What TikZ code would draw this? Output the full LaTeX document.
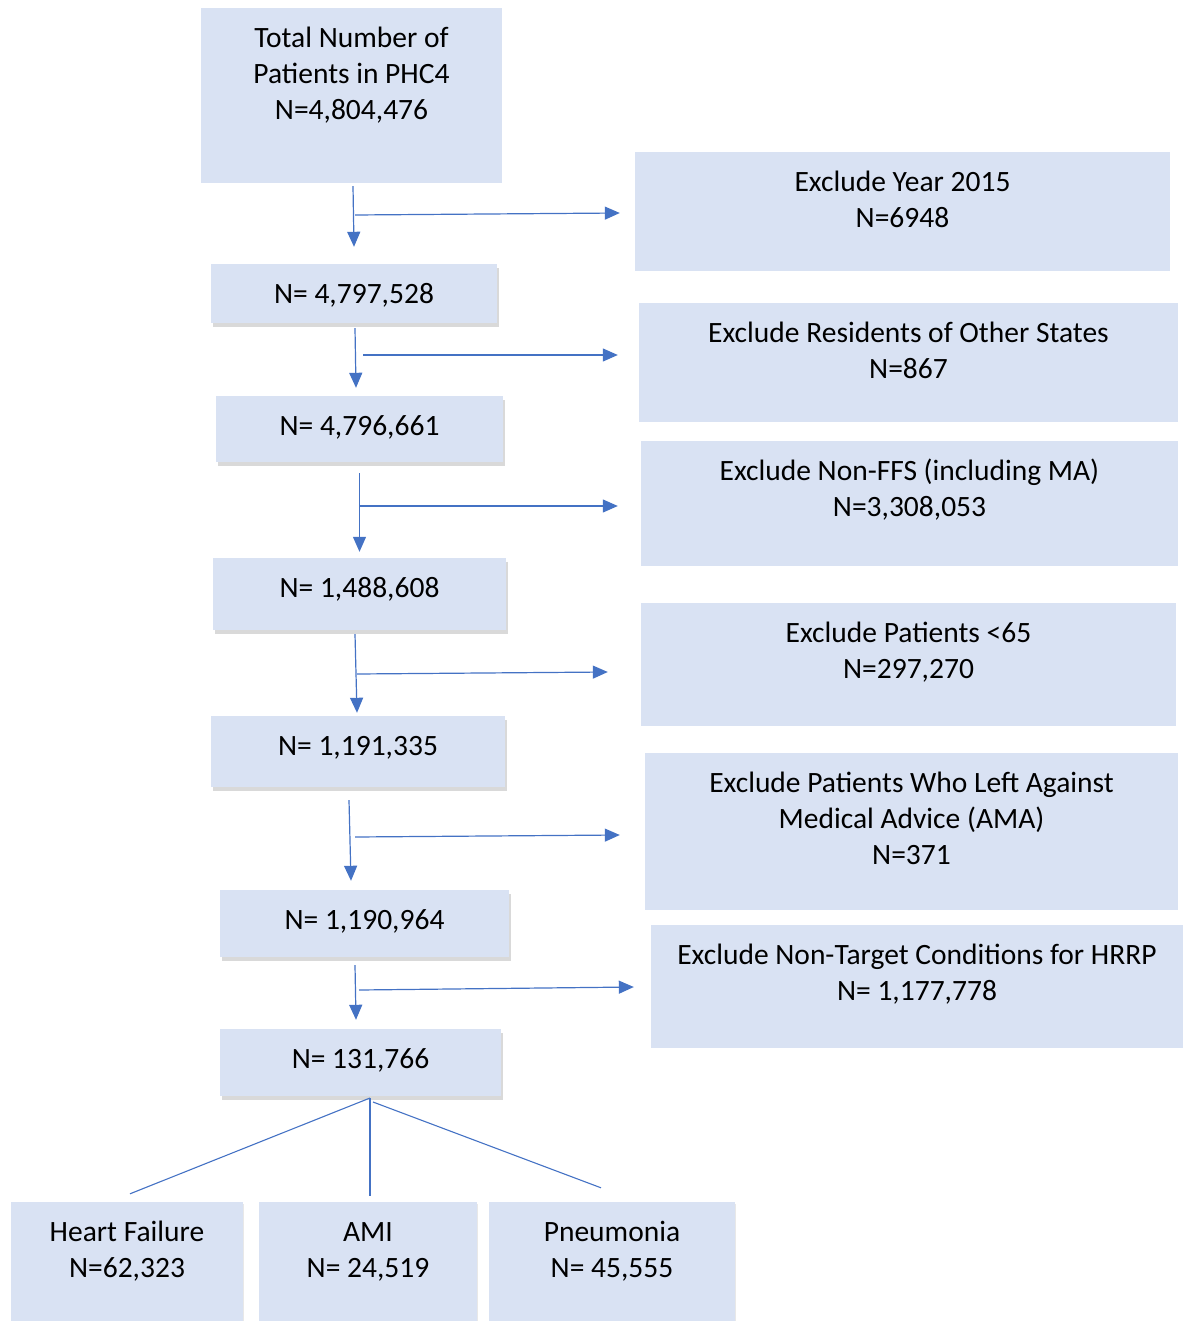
\documentclass[tikz,border=0pt]{standalone}
\usepackage{fontspec}
\setmainfont{Carlito}
\usetikzlibrary{arrows.meta,shadows}

\definecolor{boxfill}{HTML}{D9E2F3}
\definecolor{linecol}{HTML}{4472C4}

\tikzset{
  box/.style={fill=boxfill, inner sep=0pt},
  nbox/.style={box, drop shadow={opacity=.3, shadow xshift=2pt, shadow yshift=-4pt}},
  cbox/.style={box, drop shadow={opacity=.18, shadow xshift=1pt, shadow yshift=-1.5pt}},
  txt/.style={anchor=base, yshift={-3.5pt-36pt*#1}, align=center, inner sep=0pt,
    font=\fontsize{29.5pt}{36pt}\selectfont},
  txt/.default=1,
  arr/.style={draw=linecol, line width=1.2pt, -{Triangle[length=15pt,width=13pt]}},
  link/.style={draw=linecol, line width=1.1pt}
}

\begin{document}
\begin{tikzpicture}[x=1pt,y=-1pt]
                \useasboundingbox (0,0) rectangle (1184,1321);
                % left column
                \node[box, minimum width=301pt, minimum height=175pt,
                  label={[txt=3]north:Total Number of\\Patients in PHC4\\N=4,804,476}] (top) at (351.5,95.5) {};
                \node[nbox, minimum width=286pt, minimum height=59pt,
                  label={[txt]north:N= 4,797,528}] (n1) at (354,293.5) {};
                \node[nbox, minimum width=287pt, minimum height=66pt,
                  label={[txt]north:N= 4,796,661}] (n2) at (359.5,429) {};
                \node[nbox, minimum width=293pt, minimum height=72pt,
                  label={[txt]north:N= 1,488,608}] (n3) at (359.5,594) {};
                \node[nbox, minimum width=294pt, minimum height=71pt,
                  label={[txt]north:N= 1,191,335}] (n4) at (358,751.5) {};
                \node[nbox, minimum width=289pt, minimum height=67pt,
                  label={[txt]north:N= 1,190,964}] (n5) at (364.5,923.5) {};
                \node[nbox, minimum width=281pt, minimum height=67pt,
                  label={[txt]north:N= 131,766}] (n6) at (360.5,1062.5) {};
                % exclusions
                \node[box, minimum width=535pt, minimum height=119pt,
                  label={[txt=2]north:Exclude Year 2015\\N=6948}] (ex1) at (902.5,211.5) {};
                \node[box, minimum width=539pt, minimum height=119pt,
                  label={[txt=2]north:Exclude Residents of Other States\\N=867}] (ex2) at (908.5,362.5) {};
                \node[box, minimum width=537pt, minimum height=125pt,
                  label={[txt=2]north:Exclude Non-FFS (including MA)\\N=3,308,053}] (ex3) at (909.5,503.5) {};
                \node[box, minimum width=535pt, minimum height=123pt,
                  label={[txt=2]north:Exclude Patients <65\\N=297,270}] (ex4) at (908.5,664.5) {};
                \node[box, minimum width=533pt, minimum height=157pt,
                  label={[txt=3]north:Exclude Patients Who Left Against\\Medical Advice (AMA)\\N=371}] (ex5) at (911.5,831.5) {};
                \node[box, minimum width=532pt, minimum height=123pt,
                  label={[txt=2]north:Exclude Non-Target Conditions for HRRP\\N= 1,177,778}] (ex6) at (917,986.5) {};
                % conditions
                \node[cbox, minimum width=232pt, minimum height=119pt,
                  label={[txt=2]north:Heart Failure\\N=62,323}] (hf) at (127,1261.5) {};
                \node[cbox, minimum width=218pt, minimum height=119pt,
                  label={[txt=2]north:AMI\\N= 24,519}] (ami) at (368,1261.5) {};
                \node[cbox, minimum width=246pt, minimum height=119pt,
                  label={[txt=2]north:Pneumonia\\N= 45,555}] (pn) at (612,1261.5) {};

                % down arrows
                \draw[arr] ([xshift=1.5pt,yshift=-3pt]top.south) -- ([yshift=17pt]n1.north);
                \draw[arr] ([xshift=1pt,yshift=-5pt]n1.south) -- ([xshift=-3.5pt,yshift=8pt]n2.north);
                \draw[arr] ([yshift=-11pt]n2.south) -- ([yshift=6pt]n3.north);
                \draw[arr] ([xshift=-4.5pt,yshift=-4pt]n3.south) -- ([xshift=-1pt,yshift=3pt]n4.north);
                \draw[arr] ([xshift=-9pt,yshift=-13pt]n4.south) -- ([xshift=-13.5pt,yshift=9pt]n5.north);
                \draw[arr] ([xshift=-9.5pt,yshift=-8pt]n5.south) -- ([xshift=-4.5pt,yshift=9pt]n6.north);

                % side arrows
                \coordinate (b1) at (355,215);
                \coordinate (b2) at (363,355);
                \coordinate (b3) at (360,506);
                \coordinate (b4) at (357,674);
                \coordinate (b5) at (355,837);
                \coordinate (b6) at (359,990);
                \draw[arr] (b1) -- ([xshift=-15pt,yshift=-1.5pt]ex1.west);
                \draw[arr] (b2) -- ([xshift=-21pt]b2 -| ex2.west);
                \draw[arr] (b3) -- ([xshift=-23pt]b3 -| ex3.west);
                \draw[arr] (b4) -- ([xshift=-33pt,yshift=2pt]b4 -| ex4.west);
                \draw[arr] (b5) -- ([xshift=-25pt,yshift=2pt]b5 -| ex5.west);
                \draw[arr] (b6) -- ([xshift=-17pt,yshift=3pt]b6 -| ex6.west);

                % split
                \coordinate (fork) at (370,1098);
                \draw[link] (fork) -- ([xshift=3pt,yshift=8pt]hf.north);
                \draw[link] (fork) -- ([xshift=2pt,yshift=6pt]ami.north);
                \draw[link] ([xshift=3pt,yshift=-4pt]fork) -- ([xshift=-11pt,yshift=14pt]pn.north);
              \end{tikzpicture}
\end{document}
